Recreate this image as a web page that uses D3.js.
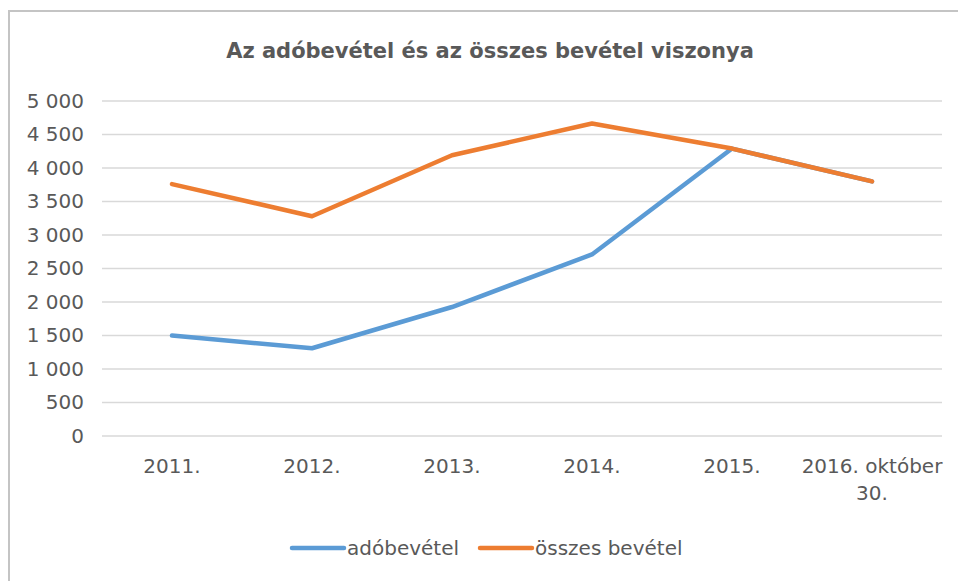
<!DOCTYPE html>
<html>
<head>
<meta charset="utf-8">
<script src="https://cdn.jsdelivr.net/npm/d3@7"></script>
<style>
  body { margin: 0; background: #ffffff; }
  text { font-family: "DejaVu Sans", sans-serif; fill: #595959; }
</style>
</head>
<body>
<div id="chart"></div>
<script>
var categories = ["2011.", "2012.", "2013.", "2014.", "2015.", "2016. október 30."];
var adobevetel = [1500, 1310, 1925, 2710, 4290, 3800];
var osszesBevetel = [3760, 3280, 4190, 4665, 4290, 3800];
var yTicks = [0, 500, 1000, 1500, 2000, 2500, 3000, 3500, 4000, 4500, 5000];
var seriesNames = ["adóbevétel", "összes bevétel"];
var colors = ["#5b9bd5", "#ed7d31"];

var W = 958, H = 581;
var margin = { top: 101, right: 16, bottom: 145, left: 102 },
    width = W - margin.left - margin.right,
    height = H - margin.top - margin.bottom;

var svg = d3.select("#chart")
    .append("svg")
    .attr("width", W)
    .attr("height", H);

// chart border (only top and left visible in the crop)
svg.append("rect")
    .attr("x", 9)
    .attr("y", 11)
    .attr("width", W + 20)
    .attr("height", H + 20)
    .attr("fill", "none")
    .attr("stroke", "#c4c4c4")
    .attr("stroke-width", 2);

// title
svg.append("text")
    .attr("x", 490)
    .attr("y", 58)
    .attr("text-anchor", "middle")
    .style("font-size", "21px")
    .style("font-weight", "bold")
    .text("Az adóbevétel és az összes bevétel viszonya");

var g = svg.append("g")
    .attr("transform", "translate(" + margin.left + "," + margin.top + ")");

var x = d3.scaleBand().domain(categories).range([0, width]);
var y = d3.scaleLinear().domain([0, 5000]).range([height, 0]);

var fmt = function (d) {
    return d3.format(",")(d).replace(/,/g, " ");
};

// gridlines
g.selectAll(".grid")
    .data(yTicks)
    .enter()
    .append("line")
    .attr("class", "grid")
    .attr("x1", 0)
    .attr("x2", width)
    .attr("y1", function (d) { return y(d); })
    .attr("y2", function (d) { return y(d); })
    .attr("stroke", "#d9d9d9")
    .attr("stroke-width", 1.5);

// y axis labels
var yAxis = g.append("g")
    .call(d3.axisLeft(y).tickValues(yTicks).tickFormat(fmt).tickSize(0).tickPadding(18));
yAxis.select(".domain").remove();
yAxis.selectAll("text")
    .style("font-size", "20px")
    .attr("fill", "#595959");

// x axis labels (wrap last category onto two lines)
var xAxis = g.append("g")
    .attr("transform", "translate(0," + height + ")")
    .call(d3.axisBottom(x).tickSize(0).tickFormat(""));
xAxis.select(".domain").remove();

g.selectAll(".x-label")
    .data(categories)
    .enter()
    .append("text")
    .attr("class", "x-label")
    .attr("text-anchor", "middle")
    .attr("x", function (d) { return x(d) + x.bandwidth() / 2; })
    .attr("y", height + 37)
    .style("font-size", "20px")
    .each(function (d) {
        var parts = d.indexOf("október") > -1 ? ["2016. október", "30."] : [d];
        var t = d3.select(this);
        parts.forEach(function (p, i) {
            t.append("tspan")
                .attr("x", x(d) + x.bandwidth() / 2)
                .attr("dy", i === 0 ? 0 : 27)
                .text(p);
        });
    });

// lines
var line = d3.line()
    .x(function (d, i) { return x(categories[i]) + x.bandwidth() / 2; })
    .y(function (d) { return y(d); });

[adobevetel, osszesBevetel].forEach(function (vals, i) {
    g.append("path")
        .datum(vals)
        .attr("fill", "none")
        .attr("stroke", colors[i])
        .attr("stroke-width", 4.5)
        .attr("stroke-linejoin", "round")
        .attr("stroke-linecap", "round")
        .attr("d", line);
});

// legend
var legendX = [290, 478];
seriesNames.forEach(function (name, i) {
    var lg = svg.append("g").attr("transform", "translate(" + legendX[i] + ",548)");
    lg.append("line")
        .attr("x1", 2).attr("x2", 54)
        .attr("y1", 0).attr("y2", 0)
        .attr("stroke", colors[i])
        .attr("stroke-width", 4.5)
        .attr("stroke-linecap", "round");
    lg.append("text")
        .attr("x", 57)
        .attr("y", 7)
        .style("font-size", "20px")
        .text(name);
});
</script>
</body>
</html>
